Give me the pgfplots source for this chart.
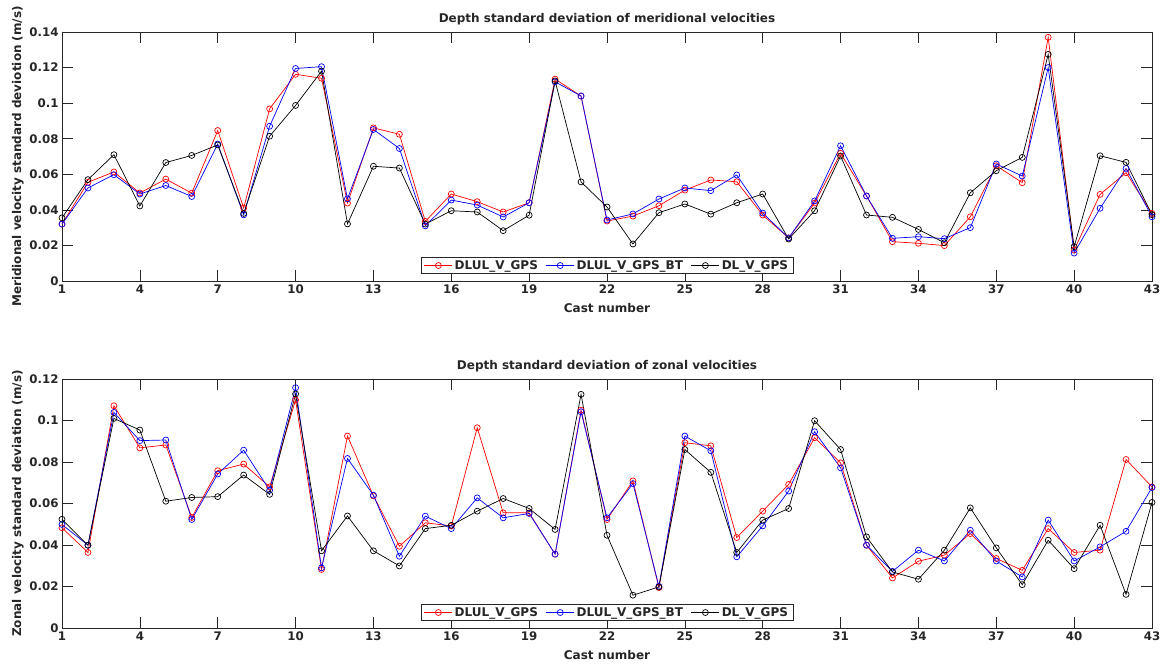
\documentclass[border=0pt]{standalone}
\usepackage{fontspec}
\setmainfont{DejaVu Sans}
\usepackage{pgfplots}
\usepackage{pgfplotstable}
\pgfplotsset{compat=1.18}
\definecolor{axgray}{rgb}{0.15,0.15,0.15}

\pgfplotstableread{
x r b k
1 0.0320 0.0320 0.0355
2 0.0555 0.0523 0.0570
3 0.0613 0.0598 0.0710
4 0.0495 0.0489 0.0422
5 0.0573 0.0537 0.0666
6 0.0494 0.0475 0.0706
7 0.0846 0.0770 0.0765
8 0.0410 0.0372 0.0380
9 0.0968 0.0870 0.0814
10 0.1162 0.1195 0.0987
11 0.1140 0.1205 0.1180
12 0.0438 0.0462 0.0321
13 0.0861 0.0852 0.0645
14 0.0825 0.0745 0.0635
15 0.0335 0.0310 0.0320
16 0.0489 0.0455 0.0395
17 0.0446 0.0427 0.0388
18 0.0388 0.0360 0.0283
19 0.0440 0.0440 0.0370
20 0.1135 0.1120 0.1125
21 0.1040 0.1040 0.0557
22 0.0337 0.0343 0.0416
23 0.0365 0.0377 0.0208
24 0.0423 0.0461 0.0384
25 0.0511 0.0523 0.0433
26 0.0568 0.0508 0.0376
27 0.0558 0.0596 0.0440
28 0.0371 0.0382 0.0489
29 0.0242 0.0242 0.0236
30 0.0438 0.0450 0.0395
31 0.0718 0.0760 0.0703
32 0.0478 0.0478 0.0371
33 0.0221 0.0240 0.0358
34 0.0212 0.0249 0.0290
35 0.0199 0.0238 0.0215
36 0.0361 0.0300 0.0496
37 0.0648 0.0658 0.0620
38 0.0553 0.0590 0.0695
39 0.1370 0.1200 0.1274
40 0.0174 0.0157 0.0193
41 0.0487 0.0409 0.0704
42 0.0609 0.0633 0.0667
43 0.0380 0.0361 0.0373
}\topdata

\pgfplotstableread{
x r b k
1 0.0483 0.0499 0.0524
2 0.0364 0.0399 0.0399
3 0.1071 0.1039 0.1010
4 0.0868 0.0903 0.0954
5 0.0882 0.0906 0.0611
6 0.0533 0.0523 0.0629
7 0.0758 0.0742 0.0633
8 0.0790 0.0857 0.0737
9 0.0680 0.0664 0.0644
10 0.1099 0.1158 0.1128
11 0.0282 0.0290 0.0372
12 0.0925 0.0817 0.0540
13 0.0637 0.0640 0.0372
14 0.0394 0.0346 0.0299
15 0.0507 0.0539 0.0479
16 0.0492 0.0479 0.0495
17 0.0965 0.0627 0.0563
18 0.0555 0.0531 0.0624
19 0.0555 0.0552 0.0576
20 0.0356 0.0356 0.0475
21 0.1050 0.1042 0.1126
22 0.0523 0.0531 0.0447
23 0.0709 0.0696 0.0158
24 0.0195 0.0201 0.0198
25 0.0893 0.0925 0.0860
26 0.0878 0.0854 0.0750
27 0.0436 0.0343 0.0364
28 0.0563 0.0492 0.0520
29 0.0692 0.0660 0.0576
30 0.0917 0.0946 0.0999
31 0.0796 0.0772 0.0860
32 0.0399 0.0399 0.0439
33 0.0241 0.0273 0.0270
34 0.0322 0.0375 0.0235
35 0.0351 0.0323 0.0375
36 0.0455 0.0471 0.0579
37 0.0335 0.0323 0.0386
38 0.0278 0.0246 0.0209
39 0.0479 0.0520 0.0423
40 0.0364 0.0323 0.0286
41 0.0375 0.0391 0.0495
42 0.0812 0.0466 0.0162
43 0.0680 0.0677 0.0605
}\botdata

\pgfplotsset{mystyle/.style={
  scale only axis, width=1090pt, height=249pt,
  xmin=1, xmax=43, xtick={1,4,...,43}, ymin=0,
  axis line style={axgray, line width=0.6pt},
  tick style={axgray, line width=0.6pt},
  major tick length=11pt, tick align=inside, xtick pos=both, ytick pos=both,
  ticklabel style={font=\fontsize{11.8}{12}\selectfont\bfseries, text=axgray},
  /pgf/number format/assume math mode=true,
  label style={font=\fontsize{12}{14}\selectfont\bfseries, text=axgray},
  title style={font=\fontsize{12}{14}\selectfont\bfseries, text=axgray, at={(axis description cs:0.5,1)}, anchor=south, inner sep=1pt},
  xlabel style={at={(axis description cs:0.5,-0.108)}, anchor=center},
  ylabel style={at={(axis description cs:-0.0406,0.5)}, anchor=center},
  scaled y ticks=false,
  clip=false,
  legend columns=3,
  legend style={at={(axis description cs:0.5,0.028)}, anchor=south, draw=axgray, line width=0.6pt,
    font=\fontsize{12}{14}\selectfont\bfseries, text=axgray, inner xsep=3pt, inner ysep=1pt,
    /tikz/every even column/.append style={column sep=6pt}},
  legend image code/.code={\draw[mark repeat=2,mark phase=2,#1] plot coordinates {(0pt,0pt)(14pt,0pt)(28pt,0pt)};},
  every axis plot/.append style={line width=0.7pt, mark=o, mark size=3pt},
}}

\begin{document}
\begin{tikzpicture}
\useasboundingbox (0,0) rectangle (1168pt,664pt);
\begin{axis}[mystyle, at={(62pt,383pt)}, anchor=south west,
  ymax=0.14, ytick={0,0.02,0.04,0.06,0.08,0.1,0.12,0.14},
  yticklabels={0,0.02,0.04,0.06,0.08,0.1,0.12,0.14},
  title={Depth standard deviation of meridional velocities},
  xlabel={Cast number},
  ylabel={Meridional velocity standard deviotion (m/s)}]
\addplot[red] table[x=x,y=r]{\topdata};
\addlegendentry{DLUL\_V\_GPS}
\addplot[blue] table[x=x,y=b]{\topdata};
\addlegendentry{DLUL\_V\_GPS\_BT}
\addplot[black] table[x=x,y=k]{\topdata};
\addlegendentry{DL\_V\_GPS}
\end{axis}
\begin{axis}[mystyle, at={(62pt,36pt)}, anchor=south west,
  ymax=0.12, ytick={0,0.02,0.04,0.06,0.08,0.1,0.12},
  yticklabels={0,0.02,0.04,0.06,0.08,0.1,0.12},
  title={Depth standard deviation of zonal velocities},
  xlabel={Cast number},
  ylabel={Zonal velocity standard deviation (m/s)}]
\addplot[red] table[x=x,y=r]{\botdata};
\addlegendentry{DLUL\_V\_GPS}
\addplot[blue] table[x=x,y=b]{\botdata};
\addlegendentry{DLUL\_V\_GPS\_BT}
\addplot[black] table[x=x,y=k]{\botdata};
\addlegendentry{DL\_V\_GPS}
\end{axis}
\end{tikzpicture}
\end{document}
